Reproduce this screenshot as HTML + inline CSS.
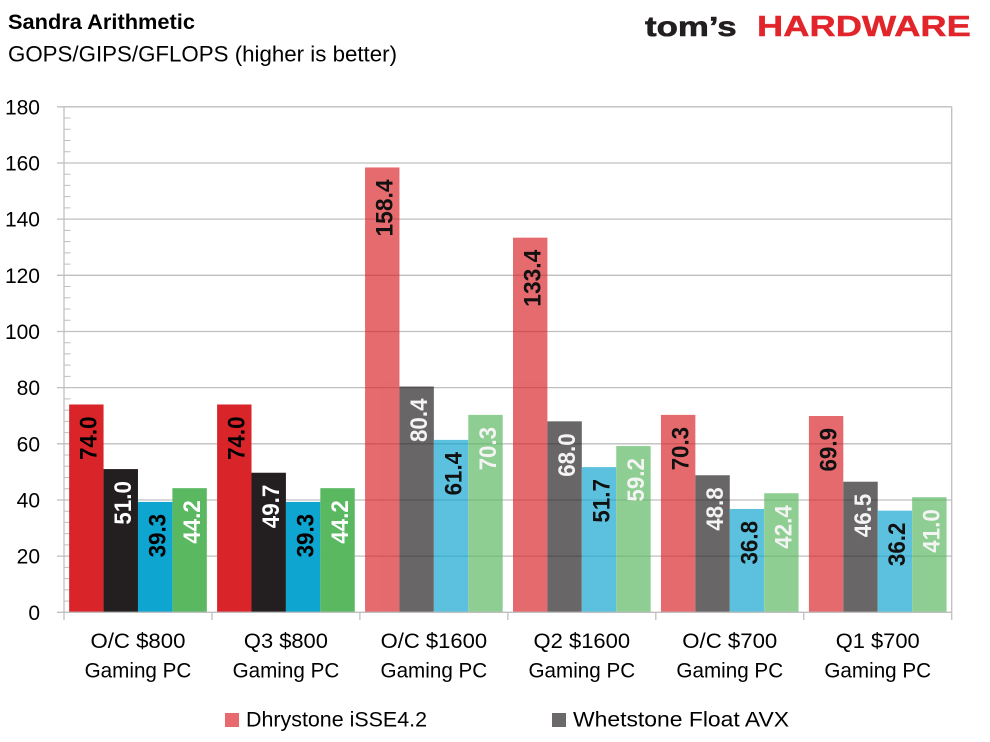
<!DOCTYPE html>
<html><head><meta charset="utf-8"><style>
html,body{margin:0;padding:0;background:#fff;}
svg{display:block;}
text{font-family:"Liberation Sans",Arial,sans-serif;}
</style></head><body>
<svg width="990" height="742" viewBox="0 0 990 742" xmlns="http://www.w3.org/2000/svg">
<rect width="990" height="742" fill="#fff"/>
<!-- titles -->
<text x="8" y="29" font-size="21" font-weight="bold" fill="#000" textLength="187" lengthAdjust="spacingAndGlyphs">Sandra Arithmetic</text>
<text x="8" y="61.5" font-size="22" fill="#000" textLength="389" lengthAdjust="spacingAndGlyphs">GOPS/GIPS/GFLOPS (higher is better)</text>
<!-- logo -->
<g transform="translate(645 36) scale(1.245 1)">
<text x="0" y="0" font-size="28" font-weight="bold" fill="#231F20" stroke="#231F20" stroke-width="0.6">tom’s</text>
</g>
<g transform="translate(757 36) scale(1.253 1)">
<text x="0" y="0" font-size="29" font-weight="bold" fill="#E1252B" stroke="#E1252B" stroke-width="0.4">HARDWARE</text>
</g>

<!-- gridlines -->
<g stroke="#BFBFBF" stroke-width="1.3" fill="none">
<path d="M57 556.13H951.7M57 499.97H951.7M57 443.8H951.7M57 387.63H951.7M57 331.47H951.7M57 275.3H951.7M57 219.13H951.7M57 162.97H951.7M57 106.8H951.7"/>
<!-- minor ticks -->
<path stroke-width="1" d="M64 601.07h6.5M64 589.83h6.5M64 578.6h6.5M64 567.37h6.5M64 544.9h6.5M64 533.67h6.5M64 522.43h6.5M64 511.2h6.5M64 488.73h6.5M64 477.5h6.5M64 466.27h6.5M64 455.03h6.5M64 432.57h6.5M64 421.33h6.5M64 410.1h6.5M64 398.87h6.5M64 376.4h6.5M64 365.17h6.5M64 353.93h6.5M64 342.7h6.5M64 320.23h6.5M64 309h6.5M64 297.77h6.5M64 286.53h6.5M64 264.07h6.5M64 252.83h6.5M64 241.6h6.5M64 230.37h6.5M64 207.9h6.5M64 196.67h6.5M64 185.43h6.5M64 174.2h6.5M64 151.73h6.5M64 140.5h6.5M64 129.27h6.5M64 118.03h6.5"/>
</g>

<!-- bars group 1 & 2 (opaque) -->
<rect x="69.15" y="404.48" width="34.41" height="207.82" fill="#D9252A"/>
<rect x="103.56" y="469.08" width="34.41" height="143.22" fill="#231F20"/>
<rect x="137.97" y="501.93" width="34.42" height="110.37" fill="#0EA5D1"/>
<rect x="172.39" y="488.17" width="34.41" height="124.13" fill="#5AB860"/>

<rect x="217.1" y="404.48" width="34.41" height="207.82" fill="#D9252A"/>
<rect x="251.51" y="472.73" width="34.41" height="139.57" fill="#231F20"/>
<rect x="285.92" y="501.93" width="34.42" height="110.37" fill="#0EA5D1"/>
<rect x="320.34" y="488.17" width="34.41" height="124.13" fill="#5AB860"/>

<!-- translucent groups -->
<g opacity="0.68">
<rect x="365.05" y="167.46" width="34.41" height="444.84" fill="#D9252A"/>
<rect x="399.46" y="386.51" width="34.41" height="225.79" fill="#231F20"/>
<rect x="433.87" y="439.87" width="34.42" height="172.43" fill="#0EA5D1"/>
<rect x="468.29" y="414.87" width="34.41" height="197.43" fill="#5AB860"/>

<rect x="513" y="237.67" width="34.41" height="374.63" fill="#D9252A"/>
<rect x="547.41" y="421.33" width="34.41" height="190.97" fill="#231F20"/>
<rect x="581.82" y="467.11" width="34.42" height="145.19" fill="#0EA5D1"/>
<rect x="616.24" y="446.05" width="34.41" height="166.25" fill="#5AB860"/>

<rect x="660.95" y="414.87" width="34.41" height="197.43" fill="#D9252A"/>
<rect x="695.36" y="475.25" width="34.41" height="137.05" fill="#231F20"/>
<rect x="729.77" y="508.95" width="34.42" height="103.35" fill="#0EA5D1"/>
<rect x="764.19" y="493.23" width="34.41" height="119.07" fill="#5AB860"/>

<rect x="808.9" y="416" width="34.41" height="196.3" fill="#D9252A"/>
<rect x="843.31" y="481.71" width="34.41" height="130.59" fill="#231F20"/>
<rect x="877.72" y="510.64" width="34.42" height="101.66" fill="#0EA5D1"/>
<rect x="912.14" y="497.16" width="34.41" height="115.14" fill="#5AB860"/>
</g>

<!-- axes -->
<g stroke="#BFBFBF" stroke-width="1.3" fill="none">
<path d="M57 612.3H951.7"/>
<path d="M64 106.8V620M951.7 106.8V620"/>
<path d="M211.95 612.3V620M359.9 612.3V620M507.85 612.3V620M655.8 612.3V620M803.75 612.3V620"/>
</g>

<!-- y labels -->
<g font-size="21" fill="#000" text-anchor="end">
<text x="40" y="619.8">0</text>
<text x="40" y="563.6">20</text>
<text x="40" y="507.5">40</text>
<text x="40" y="451.3">60</text>
<text x="40" y="395.1">80</text>
<text x="40" y="339">100</text>
<text x="40" y="282.8">120</text>
<text x="40" y="226.6">140</text>
<text x="40" y="170.5">160</text>
<text x="40" y="114.3">180</text>
</g>

<!-- data labels -->
<g font-size="24" font-weight="bold" text-anchor="end">
<text transform="translate(86.36 416.5) rotate(-90)" x="0" y="10.3" fill="#000" textLength="43.5" lengthAdjust="spacingAndGlyphs">74.0</text>
<text transform="translate(120.77 481.1) rotate(-90)" x="0" y="10.3" fill="#fff" textLength="43.5" lengthAdjust="spacingAndGlyphs">51.0</text>
<text transform="translate(155.18 513.9) rotate(-90)" x="0" y="10.3" fill="#000" textLength="43.5" lengthAdjust="spacingAndGlyphs">39.3</text>
<text transform="translate(189.6 500.2) rotate(-90)" x="0" y="10.3" fill="#fff" textLength="43.5" lengthAdjust="spacingAndGlyphs">44.2</text>

<text transform="translate(234.31 416.5) rotate(-90)" x="0" y="10.3" fill="#000" textLength="43.5" lengthAdjust="spacingAndGlyphs">74.0</text>
<text transform="translate(268.72 484.7) rotate(-90)" x="0" y="10.3" fill="#fff" textLength="43.5" lengthAdjust="spacingAndGlyphs">49.7</text>
<text transform="translate(303.13 513.9) rotate(-90)" x="0" y="10.3" fill="#000" textLength="43.5" lengthAdjust="spacingAndGlyphs">39.3</text>
<text transform="translate(337.55 500.2) rotate(-90)" x="0" y="10.3" fill="#fff" textLength="43.5" lengthAdjust="spacingAndGlyphs">44.2</text>

<text transform="translate(382.26 179.5) rotate(-90)" x="0" y="10.3" fill="#111" textLength="57" lengthAdjust="spacingAndGlyphs">158.4</text>
<text transform="translate(416.67 398.5) rotate(-90)" x="0" y="10.3" fill="#f4f4f4" textLength="43.5" lengthAdjust="spacingAndGlyphs">80.4</text>
<text transform="translate(451.08 451.9) rotate(-90)" x="0" y="10.3" fill="#111" textLength="43.5" lengthAdjust="spacingAndGlyphs">61.4</text>
<text transform="translate(485.5 426.9) rotate(-90)" x="0" y="10.3" fill="#f4f4f4" textLength="43.5" lengthAdjust="spacingAndGlyphs">70.3</text>

<text transform="translate(530.21 249.7) rotate(-90)" x="0" y="10.3" fill="#111" textLength="57" lengthAdjust="spacingAndGlyphs">133.4</text>
<text transform="translate(564.62 433.3) rotate(-90)" x="0" y="10.3" fill="#f4f4f4" textLength="43.5" lengthAdjust="spacingAndGlyphs">68.0</text>
<text transform="translate(599.03 479.1) rotate(-90)" x="0" y="10.3" fill="#111" textLength="43.5" lengthAdjust="spacingAndGlyphs">51.7</text>
<text transform="translate(633.45 458.1) rotate(-90)" x="0" y="10.3" fill="#f4f4f4" textLength="43.5" lengthAdjust="spacingAndGlyphs">59.2</text>

<text transform="translate(678.16 426.9) rotate(-90)" x="0" y="10.3" fill="#111" textLength="43.5" lengthAdjust="spacingAndGlyphs">70.3</text>
<text transform="translate(712.57 487.3) rotate(-90)" x="0" y="10.3" fill="#f4f4f4" textLength="43.5" lengthAdjust="spacingAndGlyphs">48.8</text>
<text transform="translate(746.98 521) rotate(-90)" x="0" y="10.3" fill="#111" textLength="43.5" lengthAdjust="spacingAndGlyphs">36.8</text>
<text transform="translate(781.4 505.2) rotate(-90)" x="0" y="10.3" fill="#f4f4f4" textLength="43.5" lengthAdjust="spacingAndGlyphs">42.4</text>

<text transform="translate(826.11 428) rotate(-90)" x="0" y="10.3" fill="#111" textLength="43.5" lengthAdjust="spacingAndGlyphs">69.9</text>
<text transform="translate(860.52 493.7) rotate(-90)" x="0" y="10.3" fill="#f4f4f4" textLength="43.5" lengthAdjust="spacingAndGlyphs">46.5</text>
<text transform="translate(894.93 522.6) rotate(-90)" x="0" y="10.3" fill="#111" textLength="43.5" lengthAdjust="spacingAndGlyphs">36.2</text>
<text transform="translate(929.35 509.2) rotate(-90)" x="0" y="10.3" fill="#f4f4f4" textLength="43.5" lengthAdjust="spacingAndGlyphs">41.0</text>
</g>

<!-- category labels -->
<g font-size="21" fill="#000" text-anchor="middle">
<text x="137.98" y="648" textLength="95" lengthAdjust="spacingAndGlyphs">O/C $800</text>
<text x="137.98" y="677.5" textLength="106.7" lengthAdjust="spacingAndGlyphs">Gaming PC</text>
<text x="285.93" y="648" textLength="84" lengthAdjust="spacingAndGlyphs">Q3 $800</text>
<text x="285.93" y="677.5" textLength="106.7" lengthAdjust="spacingAndGlyphs">Gaming PC</text>
<text x="433.88" y="648" textLength="106.4" lengthAdjust="spacingAndGlyphs">O/C $1600</text>
<text x="433.88" y="677.5" textLength="106.7" lengthAdjust="spacingAndGlyphs">Gaming PC</text>
<text x="581.83" y="648" textLength="96.6" lengthAdjust="spacingAndGlyphs">Q2 $1600</text>
<text x="581.83" y="677.5" textLength="106.7" lengthAdjust="spacingAndGlyphs">Gaming PC</text>
<text x="729.78" y="648" textLength="95" lengthAdjust="spacingAndGlyphs">O/C $700</text>
<text x="729.78" y="677.5" textLength="106.7" lengthAdjust="spacingAndGlyphs">Gaming PC</text>
<text x="877.73" y="648" textLength="84" lengthAdjust="spacingAndGlyphs">Q1 $700</text>
<text x="877.73" y="677.5" textLength="106.7" lengthAdjust="spacingAndGlyphs">Gaming PC</text>
</g>

<!-- legend -->
<rect x="225" y="713" width="14" height="14" fill="#E86A6E"/>
<text x="246" y="726.7" font-size="21" fill="#000" textLength="181" lengthAdjust="spacingAndGlyphs">Dhrystone iSSE4.2</text>
<rect x="552" y="713" width="14" height="14" fill="#6B696A"/>
<text x="573" y="726.7" font-size="21" fill="#000" textLength="216" lengthAdjust="spacingAndGlyphs">Whetstone Float AVX</text>
</svg>
</body></html>
